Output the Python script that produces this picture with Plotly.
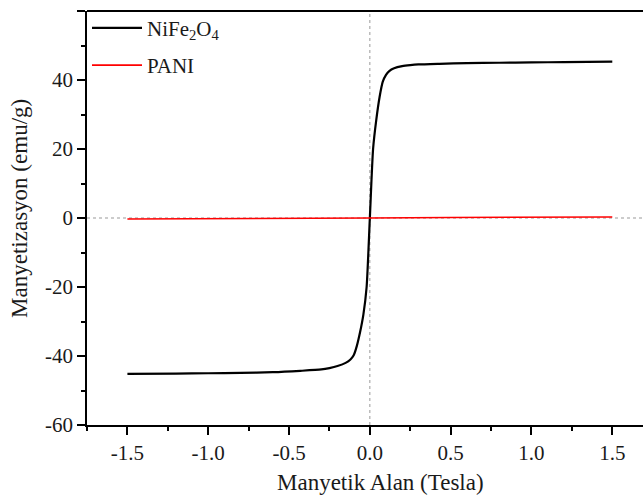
import plotly.graph_objects as go

# NiFe2O4 magnetization curve (Tesla, emu/g)
field_nife = [-1.5, -1.2, -1.0, -0.8, -0.6, -0.43, -0.3, -0.25, -0.2, -0.15, -0.12, -0.1, -0.08, -0.06, -0.04, -0.02, 0.0,
              0.02, 0.04, 0.06, 0.08, 0.1, 0.12, 0.15, 0.2, 0.25, 0.3, 0.43, 0.6, 0.8, 1.0, 1.2, 1.5]
mag_nife = [-45.2, -45.1, -45.0, -44.9, -44.7, -44.3, -43.9, -43.5, -42.9, -42.0, -41.0, -39.8, -37.0, -33.0, -28.0, -20.0, 0.0,
            20.0, 28.5, 35.0, 39.5, 41.5, 42.6, 43.4, 44.0, 44.3, 44.5, 44.7, 44.9, 45.0, 45.1, 45.2, 45.3]

# PANI curve
field_pani = [-1.5, -1.0, -0.5, 0.0, 0.5, 1.0, 1.5]
mag_pani = [-0.3, -0.25, -0.15, 0.0, 0.15, 0.25, 0.3]

x_ticks = [-1.5, -1.0, -0.5, 0.0, 0.5, 1.0, 1.5]
x_labels = ["-1.5", "-1.0", "-0.5", "0.0", "0.5", "1.0", "1.5"]
y_ticks = [-60, -40, -20, 0, 20, 40, 60]
y_labels = ["-60", "-40", "-20", "0", "20", "40", "60"]

font_family = "Liberation Serif"
txt = "#1a1a1a"

fig = go.Figure()
fig.add_trace(go.Scatter(x=field_nife, y=mag_nife, mode="lines", name="NiFe<sub>2</sub>O<sub>4</sub>",
                         legendgroup="a",
                         line=dict(color="black", width=2.2, shape="spline", smoothing=0.6)))
fig.add_trace(go.Scatter(x=field_pani, y=mag_pani, mode="lines", name="PANI", legendgroup="b",
                         line=dict(color="#ff0000", width=1.6)))

fig.add_shape(type="line", x0=0, x1=0, y0=0, y1=1, xref="x", yref="paper",
              line=dict(color="#999999", width=1, dash="dot"), layer="below")
fig.add_shape(type="line", x0=0, x1=1, y0=0, y1=0, xref="paper", yref="y",
              line=dict(color="#999999", width=1, dash="dot"), layer="below")
# top frame line
fig.add_shape(type="line", x0=0, x1=1, y0=1, y1=1, xref="paper", yref="paper",
              line=dict(color="black", width=1.8), layer="above")

axis_common = dict(showgrid=False, zeroline=False, showline=True, linecolor="black", linewidth=1.8,
                   ticks="outside", ticklen=8, tickwidth=1.5, tickcolor="black",
                   tickfont=dict(family=font_family, size=21, color=txt))

fig.update_layout(
    width=643, height=499,
    margin=dict(l=87, r=0, t=11, b=74),
    plot_bgcolor="white", paper_bgcolor="white",
    font=dict(family=font_family, color=txt),
    xaxis=dict(range=[-1.75, 1.69], tickvals=x_ticks, ticktext=x_labels,
               minor=dict(ticks="outside", ticklen=4, tickwidth=1.5, tickcolor="black", dtick=0.25, tick0=0),
               **axis_common),
    yaxis=dict(range=[-60, 60], tickvals=y_ticks, ticktext=y_labels,
               minor=dict(ticks="outside", ticklen=4, tickwidth=1.5, tickcolor="black", dtick=10, tick0=0),
               **axis_common),
    legend=dict(x=0.0, y=1.008, xanchor="left", yanchor="top", bgcolor="rgba(0,0,0,0)",
                font=dict(family=font_family, size=21, color=txt), itemwidth=50, tracegroupgap=7),
    showlegend=True,
    annotations=[
        dict(text="Manyetik Alan (Tesla)", xref="paper", yref="paper", x=0.527, y=-0.140,
             xanchor="center", yanchor="middle", showarrow=False,
             font=dict(family=font_family, size=23, color=txt)),
        dict(text="Manyetizasyon (emu/g)", xref="paper", yref="paper", x=-0.1205, y=0.522,
             xanchor="center", yanchor="middle", showarrow=False, textangle=-90,
             font=dict(family=font_family, size=23, color=txt)),
    ],
)

fig.write_html("out.html")
